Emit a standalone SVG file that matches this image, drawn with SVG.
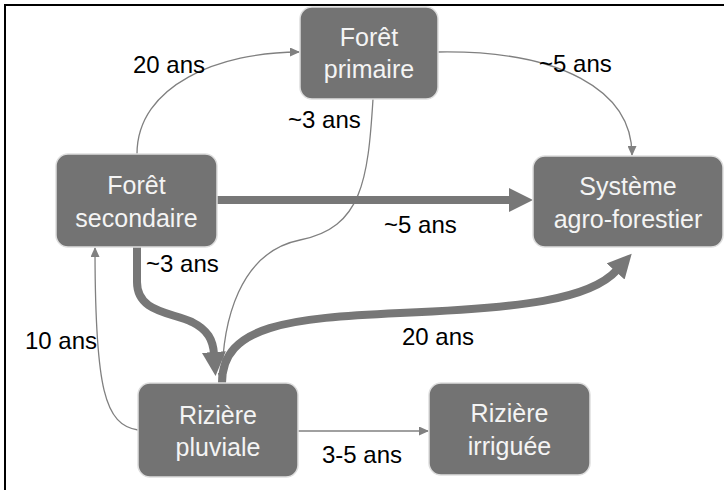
<svg xmlns="http://www.w3.org/2000/svg" width="724" height="490" viewBox="0 0 724 490">
<style>
.node rect{fill:#737373;stroke:#dedede;stroke-width:1.5}
.node text{fill:#f4f4f4;font-family:"Liberation Sans",Arial,sans-serif;font-size:25px;text-anchor:middle}
.thin{fill:none;stroke:#808080;stroke-width:1.3}
.thick{fill:none;stroke:#777777;stroke-width:8}
.lbl{fill:#000;font-family:"Liberation Sans",Arial,sans-serif;font-size:24px}
</style>
<defs>
<marker id="ah" markerUnits="userSpaceOnUse" markerWidth="10" markerHeight="9" refX="9" refY="4.5" orient="auto">
<path d="M0,0 L10,4.5 L0,9 z" fill="#808080"/>
</marker>
<marker id="AH" markerUnits="userSpaceOnUse" markerWidth="24" markerHeight="24" refX="2" refY="12" orient="auto">
<path d="M0,0 L24,12 L0,24 z" fill="#777777"/>
</marker>
</defs>
<rect x="0" y="0" width="724" height="490" fill="#ffffff"/>
<rect x="5" y="5" width="730" height="500" fill="none" stroke="#000" stroke-width="2"/>
<g id="connectors">
<path class="thin" d="M137,154 C137,85 220,52 299,52" marker-end="url(#ah)"/>
<path class="thin" d="M438,52 C560,50 632,90 632,155" marker-end="url(#ah)"/>
<path class="thin" d="M373,99 C368,180 362,228 300,240 C240,252 222,320 222,382" marker-end="url(#ah)"/>
<path class="thin" d="M138,430 C105,425 95,390 95,248" marker-end="url(#ah)"/>
<path class="thin" d="M298,431 L428,431" marker-end="url(#ah)"/>
<path class="thick" d="M217,200 L511,200" marker-end="url(#AH)"/>
<path class="thick" d="M137,247 L137,282 C137,312 170,312 192,322 C208,330 213,340 214,354" marker-end="url(#AH)"/>
<path class="thick" d="M222,383 C222,325 290,318 400,313 C520,308 590,300 617,270" marker-end="url(#AH)"/>
<text class="lbl" x="133" y="73">20 ans</text>
<text class="lbl" x="539" y="72">~5 ans</text>
<text class="lbl" x="288" y="128">~3 ans</text>
<text class="lbl" x="146" y="272">~3 ans</text>
<text class="lbl" x="384" y="233">~5 ans</text>
<text class="lbl" x="25" y="349">10 ans</text>
<text class="lbl" x="402" y="345">20 ans</text>
<text class="lbl" x="322" y="463">3‑5 ans</text>
</g>
<g id="foret-primaire" class="node">
<rect x="300" y="7" width="138" height="92" rx="12"/>
<text x="369" y="46">Forêt</text>
<text x="369" y="78">primaire</text>
</g>
<g id="foret-secondaire" class="node">
<rect x="56" y="154" width="161" height="93" rx="12"/>
<text x="136.5" y="194">Forêt</text>
<text x="136.5" y="227">secondaire</text>
</g>
<g id="systeme-agroforestier" class="node">
<rect x="533" y="156" width="190" height="91" rx="12"/>
<text x="628" y="195">Système</text>
<text x="628" y="228">agro-forestier</text>
</g>
<g id="riziere-pluviale" class="node">
<rect x="138" y="383" width="160" height="94" rx="12"/>
<text x="218" y="424">Rizière</text>
<text x="218" y="456">pluviale</text>
</g>
<g id="riziere-irriguee" class="node">
<rect x="429" y="383" width="161" height="92" rx="12"/>
<text x="509.5" y="422">Rizière</text>
<text x="509.5" y="455">irriguée</text>
</g>
</svg>
